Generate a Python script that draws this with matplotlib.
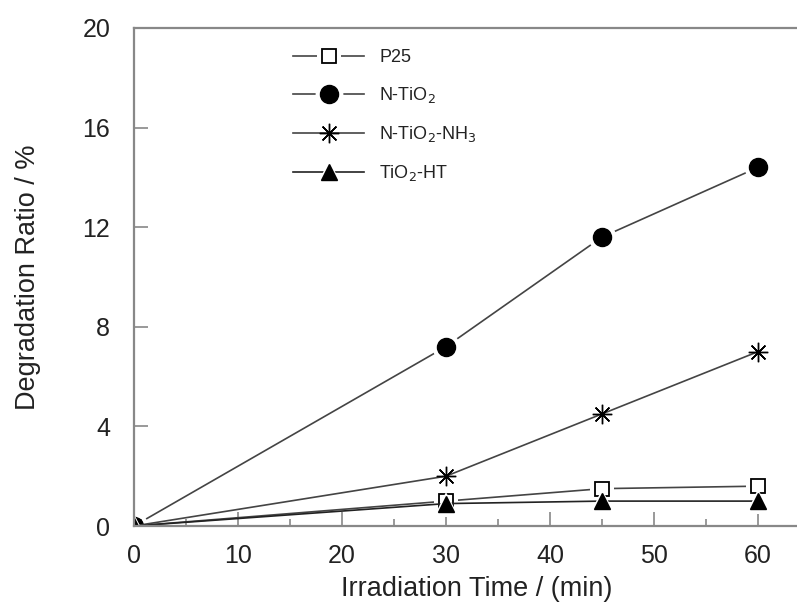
import matplotlib
matplotlib.use('Agg')
import matplotlib.pyplot as plt
from matplotlib.ticker import MultipleLocator
from matplotlib.legend_handler import HandlerTuple

plt.rcParams['font.family'] = ['Liberation Sans', 'DejaVu Sans']

# Data
time_min = [0, 30, 45, 60]
p25 = [0, 1.0, 1.5, 1.6]
n_tio2 = [0, 7.2, 11.6, 14.4]
n_tio2_nh3 = [0, 2.0, 4.5, 7.0]
tio2_ht = [0, 0.9, 1.0, 1.0]

labels = ['P25', 'N-TiO$_2$', 'N-TiO$_2$-NH$_3$', 'TiO$_2$-HT']

fig = plt.figure(figsize=(7.97, 6.06), dpi=100)
ax = fig.add_axes([0.168, 0.132, 0.832, 0.822])

series = [
    (p25, dict(marker='s', ms=10, mfc='white', mec='black', mew=1.3), '#444444'),
    (n_tio2, dict(marker='o', ms=13, mfc='black', mec='black'), '#444444'),
    (n_tio2_nh3, dict(marker=(8, 2, 0), ms=14, mec='black', mew=1.0), '#444444'),
    (tio2_ht, dict(marker='^', ms=11, mfc='black', mec='black'), '#222222'),
]

handles = []
for ys, mk, lc in series:
    ln, = ax.plot(time_min, ys, color=lc, lw=1.2)
    # white halo so the line stops short of the marker
    halo, = ax.plot(time_min, ys, ls='none', marker=mk['marker'],
                    ms=mk['ms'] + 7, mfc='white', mec='white', mew=0)
    pt, = ax.plot(time_min, ys, ls='none', **mk)
    handles.append((ln, halo, pt))

ax.set_xlim(0, 63.75)
ax.set_ylim(0, 20)
ax.xaxis.set_major_locator(MultipleLocator(10))
ax.xaxis.set_minor_locator(MultipleLocator(5))
ax.yaxis.set_major_locator(MultipleLocator(4))

ax.spines['right'].set_visible(False)
for s in ['left', 'bottom', 'top']:
    ax.spines[s].set_color('#888888')
    ax.spines[s].set_linewidth(1.6)

ax.tick_params(axis='both', which='major', direction='in', length=10,
               width=1.2, color='#888888', labelsize=18, labelcolor='#222222')
ax.tick_params(axis='x', which='major', pad=13)
ax.tick_params(axis='y', which='major', pad=17)
ax.tick_params(axis='x', which='minor', direction='in', length=5,
               width=1.2, color='#888888')
ax.tick_params(axis='x', top=False, which='both')
ax.tick_params(axis='y', right=False)

ax.set_xlabel('Irradiation Time / (min)', fontsize=19.5, color='#222222', labelpad=6)
ax.xaxis.label.set_x(0.517)
ax.set_ylabel('Degradation Ratio / %', fontsize=19.5, color='#222222', labelpad=30)

leg = ax.legend(handles, labels, handler_map={tuple: HandlerTuple(ndivide=1)},
                loc='upper left', bbox_to_anchor=(0.216, 0.99), frameon=False,
                fontsize=13, handlelength=3.9, labelspacing=1.05,
                handletextpad=0.85, labelcolor='#222222')

fig.savefig('out.png', dpi=100)
